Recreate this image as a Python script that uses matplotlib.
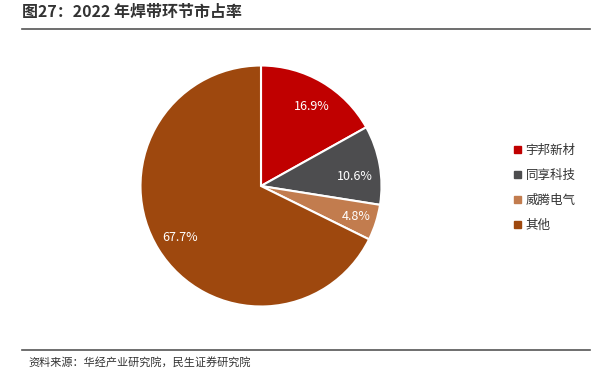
import matplotlib
matplotlib.use("Agg")
import matplotlib.pyplot as plt
from matplotlib.lines import Line2D

plt.rcParams['font.family'] = ['Noto Sans CJK SC', 'DejaVu Sans']

labels = ["宇邦新材", "同享科技", "威腾电气", "其他"]
shares = [16.9, 10.6, 4.8, 67.7]
colors = ["#C00000", "#4D4D4F", "#C27C4E", "#9E480E"]

fig = plt.figure(figsize=(6.08, 3.76), dpi=100)

# title + rules
fig.text(22 / 608, 1 - 12 / 376, "图27：2022 年焊带环节市占率", fontsize=11.5,
         fontweight="bold", color="#333333", va="center", ha="left")
fig.add_artist(Line2D([22 / 608, 590 / 608], [1 - 29 / 376] * 2, color="#555555", lw=1.2))
fig.add_artist(Line2D([22 / 608, 590 / 608], [1 - 350 / 376] * 2, color="#555555", lw=1.2))
fig.text(28 / 608, 1 - 362 / 376, "资料来源：华经产业研究院，民生证券研究院", fontsize=8,
         color="#333333", va="center", ha="left")

# pie: center (261,186), radius ~120 px
r = 120.5
cx, cy = 261, 186
ax = fig.add_axes([(cx - r) / 608, 1 - (cy + r) / 376, 2 * r / 608, 2 * r / 376])
wedges, texts = ax.pie(shares, colors=colors, startangle=90, counterclock=False,
                       wedgeprops=dict(edgecolor="white", linewidth=1.5))
pos = [(0.42, 0.66), (0.78, 0.08), (0.79, -0.25), (-0.67, -0.43)]
for (x, y), v in zip(pos, shares):
    ax.text(x, y, f"{v}%", ha="center", va="center", color="white", fontsize=9)
ax.set_xlim(-1, 1)
ax.set_ylim(-1, 1)
ax.set_aspect("equal")

handles = [plt.Rectangle((0, 0), 1, 1, color=c) for c in colors]
fig.legend(handles, labels, loc="center left", bbox_to_anchor=(503 / 608, 1 - 188 / 376),
           frameon=False, fontsize=9, handlelength=0.5, handleheight=0.5,
           labelspacing=0.95, handletextpad=0.4, labelcolor="#333333")

fig.savefig("out.png", dpi=100)
